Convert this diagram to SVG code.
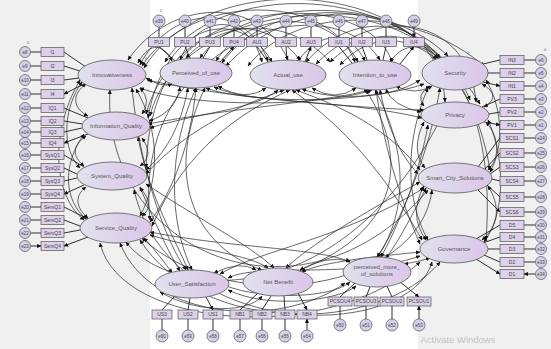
<svg xmlns="http://www.w3.org/2000/svg" width="551" height="349" viewBox="0 0 551 349">
<defs>
<linearGradient id="lg" x1="0" y1="0" x2="1" y2="0"><stop offset="0" stop-color="#dfe1ee"/><stop offset="1" stop-color="#dcc6e8"/></linearGradient>
<marker id="ah" viewBox="0 0 10 10" refX="9" refY="5" markerUnits="userSpaceOnUse" markerWidth="4.5" markerHeight="4.5" orient="auto-start-reverse"><path d="M0,0.5 L10,5 L0,9.5 z" fill="#111"/></marker>
<style>
.lat{fill:url(#lg);stroke:#555;stroke-width:0.8}
.box{fill:#dcd1e9;stroke:#555;stroke-width:0.7}
.err{fill:#d5cfea;stroke:#555;stroke-width:0.7}
.a{stroke:#1a1a1a;stroke-width:0.9;fill:none;marker-end:url(#ah)}
.cv{stroke:#262626;stroke-width:0.7;fill:none;marker-start:url(#ah);marker-end:url(#ah)}
text{font-family:"Liberation Sans",Arial,sans-serif;fill:#444;text-anchor:middle}
.bt{font-size:5px}
.et{font-size:4.5px}
.lt{font-size:6px;fill:#555}
.z{font-size:4px;fill:#666}
</style>
</defs>
<rect width="551" height="349" fill="#f0f0f0"/>
<rect x="150" y="0" width="268" height="349" fill="#ffffff"/>

<g id="connectors">
<path class="a" d="M30.5,52H41M30.5,66H41M30.5,80H41M30.5,94H41M30.5,108H41M30.5,121H41M30.5,132H41M30.5,143H41M30.5,155H41M30.5,168H41M30.5,181H41M30.5,194H41M30.5,207H41M30.5,220H41M30.5,233H41M30.5,246H41"/>
<path class="a" d="M86,67L64,52M80,71L64,66M79,78L64,80M84,84L64,94"/>
<path class="a" d="M88,118L64,108M82,124L64,121M82,128L64,132M88,134L64,143"/>
<path class="a" d="M84,167L64,155M77,174L64,168M77,178L64,181M84,185L64,194"/>
<path class="a" d="M88,219L64,207M80,226L64,220M80,230L64,233M88,237L64,246"/>
<path class="a" d="M535.5,60H524M535.5,73H524M535.5,86H524M535.5,99H524M535.5,112H524M535.5,125H524M535.5,138H524M535.5,153H524M535.5,167H524M535.5,181H524M535.5,197H524M535.5,212H524M535.5,225H524M535.5,237H524M535.5,249H524M535.5,262H524M535.5,274H524"/>
<path class="a" d="M483,64L500,60M488,73L500,73M483,82L500,86"/>
<path class="a" d="M482,107L500,99M489,114L500,112M484,122L500,125"/>
<path class="a" d="M478,167L500,138M484,170L500,153M490,174L500,167M492,179L500,181M487,185L500,197M478,190L500,212"/>
<path class="a" d="M476,239L500,225M483,243L500,237M488,249L500,249M484,255L500,262M476,259L500,274"/>
<path class="a" d="M159,27V37.5M185,27V37.5M210,27V37.5M234,27V37.5M257,27V37.5M286,27V37.5M311,27V37.5M339,27V37.5M362,27V37.5M386,27V37.5M414,27V37.5"/>
<path class="a" d="M175,61L159,46.5M190,58L185,46.5M203,58L210,46.5M220,62L234,46.5"/>
<path class="a" d="M268,62L257,46.5M287,60L286,46.5M305,62L311,46.5"/>
<path class="a" d="M352,63L339,46.5M367,60L362,46.5M383,60L386,46.5M400,64L414,46.5"/>
<path class="a" d="M162,330V319M188,330V319M213,330V319M240,330V319M262,330V319M285,330V319M307,330V319"/>
<path class="a" d="M340,319V306M366,319V306M392,319V306M419,319V306"/>
<path class="a" d="M175,296L162,310M190,298L188,310M206,297L213,310"/>
<path class="a" d="M258,293L240,310M271,296L262,310M284,296L285,310M298,293L307,310"/>
<path class="a" d="M355,283L340,297M370,287L366,297M387,286L392,297M400,282L419,297"/>

<path class="cv" d="M86,84C72,94 72,108 88,116"/>
<path class="cv" d="M82,82C62,110 62,150 80,168"/>
<path class="cv" d="M80,80C50,130 52,195 84,220"/>
<path class="cv" d="M86,136C72,146 72,156 84,166"/>
<path class="cv" d="M84,134C62,165 64,200 86,219"/>
<path class="cv" d="M86,187C74,196 76,208 88,218"/>
<path class="cv" d="M140,88Q152,100 142,114"/>
<path class="cv" d="M142,138Q155,155 140,166"/>
<path class="cv" d="M140,188Q156,205 142,216"/>
<path class="cv" d="M136,89C160,130 160,180 140,216"/>
<path class="cv" d="M482,84C496,92 496,100 484,107"/>
<path class="cv" d="M486,122C500,138 500,158 488,170"/>
<path class="cv" d="M488,186C500,205 500,225 482,240"/>
<path class="cv" d="M486,80C504,110 503,150 490,172"/>
<path class="cv" d="M488,120C506,160 505,215 484,242"/>
<path class="cv" d="M430,86Q415,95 424,106"/>
<path class="cv" d="M424,122Q410,150 425,168"/>
<path class="cv" d="M424,186Q408,215 426,240"/>
<path class="cv" d="M428,88C405,140 405,200 428,240"/>
<path class="cv" d="M140,65C170,5 245,0 268,61"/>
<path class="cv" d="M142,66C190,-8 330,-8 355,62"/>
<path class="cv" d="M144,68C200,-25 380,-20 436,60"/>
<path class="cv" d="M216,61C250,8 330,8 358,62"/>
<path class="cv" d="M222,63C270,-5 390,-2 438,59"/>
<path class="cv" d="M306,62C350,12 410,18 440,58"/>
<path class="cv" d="M226,66C300,-15 440,0 445,102"/>
<path class="cv" d="M148,118C165,20 240,5 272,62"/>
<path class="cv" d="M146,114C180,-10 370,-10 392,62"/>
<path class="cv" d="M180,60C200,10 250,15 262,62"/>
<path class="cv" d="M298,61C320,30 350,30 365,61"/>
<path class="cv" d="M390,62C405,40 425,45 438,58"/>
<path class="cv" d="M138,63C150,40 165,45 172,61"/>
<path class="cv" d="M316,64C380,0 470,20 476,102"/>
<path class="cv" d="M150,116C180,-5 420,-25 470,100"/>
<path class="cv" d="M165,62C210,-15 400,-30 480,104"/>
<path class="cv" d="M146,168C150,30 250,-5 300,60"/>
<path class="cv" d="M150,220C130,40 330,-20 380,60"/>
<path class="cv" d="M200,58C240,0 380,-10 448,56"/>
<path class="cv" d="M248,66C300,0 420,10 484,66"/>
<path class="cv" d="M186,58C220,20 290,15 330,62"/>
<path class="cv" d="M128,60C170,-2 260,-5 288,60"/>
<path class="cv" d="M340,65C390,10 470,50 490,170"/>
<path class="cv" d="M330,62C400,-5 500,60 486,240"/>
<path class="cv" d="M146,78Q162,88 172,84"/>
<path class="cv" d="M218,86Q245,102 266,88"/>
<path class="cv" d="M312,88Q335,102 356,88"/>
<path class="cv" d="M396,86Q415,96 432,86"/>
<path class="cv" d="M149,121Q176,112 180,87"/>
<path class="cv" d="M146,170C170,148 182,120 188,88"/>
<path class="cv" d="M150,222C180,180 192,130 196,88"/>
<path class="cv" d="M150,128C200,112 255,110 278,90"/>
<path class="cv" d="M146,174C190,125 250,102 284,90"/>
<path class="cv" d="M152,226C185,150 240,112 290,90"/>
<path class="cv" d="M148,124C230,108 340,100 368,90"/>
<path class="cv" d="M140,88C200,110 330,105 372,90"/>
<path class="cv" d="M421,112Q392,106 386,89"/>
<path class="cv" d="M418,174C396,150 386,120 380,90"/>
<path class="cv" d="M420,244C392,180 382,130 376,90"/>
<path class="cv" d="M420,170C382,120 322,100 296,90"/>
<path class="cv" d="M422,240C372,150 322,112 292,90"/>
<path class="cv" d="M422,118C350,100 240,102 206,88"/>
<path class="cv" d="M424,84C380,100 260,108 214,87"/>
<path class="cv" d="M420,80C390,100 330,100 302,89"/>
<path class="cv" d="M148,80C230,100 400,110 424,110"/>
<path class="cv" d="M144,238Q162,258 172,273"/>
<path class="cv" d="M140,187C158,230 170,255 180,271"/>
<path class="cv" d="M138,137C150,200 176,240 188,270"/>
<path class="cv" d="M132,88C140,170 165,240 186,270"/>
<path class="cv" d="M196,88C168,150 168,220 192,270"/>
<path class="cv" d="M205,88C165,170 190,245 262,270"/>
<path class="cv" d="M375,90C408,150 408,210 378,257"/>
<path class="cv" d="M366,90C410,160 400,230 300,270"/>
<path class="cv" d="M214,273Q240,260 256,270"/>
<path class="cv" d="M300,270Q326,255 350,261"/>
<path class="cv" d="M404,264Q418,262 430,258"/>
<path class="cv" d="M426,188C410,220 396,245 386,258"/>
<path class="cv" d="M428,125C418,180 396,230 381,257"/>
<path class="cv" d="M440,88C430,150 402,220 377,257"/>
<path class="cv" d="M150,235C200,250 250,255 268,268"/>
<path class="cv" d="M146,184C200,220 250,245 274,268"/>
<path class="cv" d="M420,252C380,256 320,262 302,272"/>
<path class="cv" d="M420,182C360,215 310,245 286,268"/>
<path class="cv" d="M150,232C230,248 320,248 350,262"/>
<path class="cv" d="M420,256C350,280 260,262 228,278"/>
<path class="cv" d="M424,188C340,240 260,250 220,274"/>
<path class="cv" d="M218,282C250,300 330,300 350,282"/>
<path class="cv" d="M140,240C200,335 380,335 440,262"/>
<path class="cv" d="M134,190C170,345 410,340 432,262"/>
<path class="cv" d="M142,238C230,320 420,290 432,190"/>
<path class="cv" d="M120,243C150,320 280,330 345,283"/>
<path class="cv" d="M126,242C170,300 340,315 440,120"/>
<path class="cv" d="M110,90C100,250 300,340 428,190"/>
<path class="cv" d="M160,292C200,315 250,312 262,296"/>
<path class="cv" d="M228,290C270,310 340,300 356,286"/>
<path class="cv" d="M100,243C120,330 330,345 420,262"/>
</g>

<g id="innovativeness"><ellipse class="lat" cx="112" cy="75" rx="34" ry="15"/><text class="lt" x="112" y="77">Innovativeness</text><text class="z" x="146" y="60">0</text></g>
<g id="information_quality"><ellipse class="lat" cx="116" cy="126" rx="34" ry="14"/><text class="lt" x="116" y="128">Information_Quality</text></g>
<g id="system_quality"><ellipse class="lat" cx="112" cy="176" rx="35" ry="14"/><text class="lt" x="112" y="178">System_Quality</text></g>
<g id="service_quality"><ellipse class="lat" cx="116" cy="228" rx="36" ry="15"/><text class="lt" x="116" y="230">Service_Quality</text></g>
<g id="perceived_of_use"><ellipse class="lat" cx="196" cy="73" rx="36" ry="15"/><text class="lt" x="196" y="75">Perceived_of_use</text></g>
<g id="actual_use"><ellipse class="lat" cx="288" cy="75" rx="38" ry="15"/><text class="lt" x="288" y="77">Actual_use</text></g>
<g id="intention_to_use"><ellipse class="lat" cx="375" cy="75" rx="36" ry="15"/><text class="lt" x="375" y="77">Intention_to_use</text></g>
<g id="security"><ellipse class="lat" cx="455" cy="73" rx="33" ry="17"/><text class="lt" x="455" y="75">Security</text><text class="z" x="468" y="54">0</text></g>
<g id="privacy"><ellipse class="lat" cx="455" cy="115" rx="34" ry="13"/><text class="lt" x="455" y="117">Privacy</text></g>
<g id="smart_city_solutions"><ellipse class="lat" cx="455" cy="178" rx="37" ry="15"/><text class="lt" x="455" y="180">Smart_City_Solutions</text></g>
<g id="governance"><ellipse class="lat" cx="454" cy="249" rx="34" ry="14"/><text class="lt" x="454" y="251">Governance</text></g>
<g id="user_satisfaction"><ellipse class="lat" cx="192" cy="284" rx="37" ry="14"/><text class="lt" x="192" y="286">User_Satisfaction</text></g>
<g id="net_benefit"><ellipse class="lat" cx="278" cy="282" rx="35" ry="14"/><text class="lt" x="278" y="284">Net Benefit</text><text class="z" x="290" y="265">0</text></g>
<g id="perceived_more"><ellipse class="lat" cx="377" cy="272" rx="34" ry="15"/><text class="lt" x="377" y="269">perceived_more_</text><text class="lt" x="377" y="276">of_solutions</text></g>

<g id="I1"><rect class="box" x="41" y="47.5" width="23" height="9"/><text class="bt" x="52.5" y="53.8">I1</text></g>
<g id="I2"><rect class="box" x="41" y="61.5" width="23" height="9"/><text class="bt" x="52.5" y="67.8">I2</text></g>
<g id="I3"><rect class="box" x="41" y="75.5" width="23" height="9"/><text class="bt" x="52.5" y="81.8">I3</text></g>
<g id="I4"><rect class="box" x="41" y="89.5" width="23" height="9"/><text class="bt" x="52.5" y="95.8">I4</text></g>
<g id="IQ1"><rect class="box" x="41" y="103.5" width="23" height="9"/><text class="bt" x="52.5" y="109.8">IQ1</text></g>
<g id="IQ2"><rect class="box" x="41" y="116.5" width="23" height="9"/><text class="bt" x="52.5" y="122.8">IQ2</text></g>
<g id="IQ3"><rect class="box" x="41" y="127.5" width="23" height="9"/><text class="bt" x="52.5" y="133.8">IQ3</text></g>
<g id="IQ4"><rect class="box" x="41" y="138.5" width="23" height="9"/><text class="bt" x="52.5" y="144.8">IQ4</text></g>
<g id="SysQ1"><rect class="box" x="41" y="150.5" width="23" height="9"/><text class="bt" x="52.5" y="156.8">SysQ1</text></g>
<g id="SysQ2"><rect class="box" x="41" y="163.5" width="23" height="9"/><text class="bt" x="52.5" y="169.8">SysQ2</text></g>
<g id="SysQ3"><rect class="box" x="41" y="176.5" width="23" height="9"/><text class="bt" x="52.5" y="182.8">SysQ3</text></g>
<g id="SysQ4"><rect class="box" x="41" y="189.5" width="23" height="9"/><text class="bt" x="52.5" y="195.8">SysQ4</text></g>
<g id="ServQ1"><rect class="box" x="41" y="202.5" width="23" height="9"/><text class="bt" x="52.5" y="208.8">ServQ1</text></g>
<g id="ServQ2"><rect class="box" x="41" y="215.5" width="23" height="9"/><text class="bt" x="52.5" y="221.8">ServQ2</text></g>
<g id="ServQ3"><rect class="box" x="41" y="228.5" width="23" height="9"/><text class="bt" x="52.5" y="234.8">ServQ3</text></g>
<g id="ServQ4"><rect class="box" x="41" y="241.5" width="23" height="9"/><text class="bt" x="52.5" y="247.8">ServQ4</text></g>
<g id="e8"><circle class="err" cx="25" cy="52" r="5.5"/><text class="et" x="25" y="53.6">e8</text><text class="z" x="28" y="44">0</text></g>
<g id="e9"><circle class="err" cx="25" cy="66" r="5.5"/><text class="et" x="25" y="67.6">e9</text></g>
<g id="e10"><circle class="err" cx="25" cy="80" r="5.5"/><text class="et" x="25" y="81.6">e10</text></g>
<g id="e11"><circle class="err" cx="25" cy="94" r="5.5"/><text class="et" x="25" y="95.6">e11</text></g>
<g id="e12"><circle class="err" cx="25" cy="108" r="5.5"/><text class="et" x="25" y="109.6">e12</text></g>
<g id="e13"><circle class="err" cx="25" cy="121" r="5.5"/><text class="et" x="25" y="122.6">e13</text></g>
<g id="e14"><circle class="err" cx="25" cy="132" r="5.5"/><text class="et" x="25" y="133.6">e14</text></g>
<g id="e15"><circle class="err" cx="25" cy="143" r="5.5"/><text class="et" x="25" y="144.6">e15</text></g>
<g id="e16"><circle class="err" cx="25" cy="155" r="5.5"/><text class="et" x="25" y="156.6">e16</text></g>
<g id="e17"><circle class="err" cx="25" cy="168" r="5.5"/><text class="et" x="25" y="169.6">e17</text></g>
<g id="e18"><circle class="err" cx="25" cy="181" r="5.5"/><text class="et" x="25" y="182.6">e18</text></g>
<g id="e19"><circle class="err" cx="25" cy="194" r="5.5"/><text class="et" x="25" y="195.6">e19</text></g>
<g id="e20"><circle class="err" cx="25" cy="207" r="5.5"/><text class="et" x="25" y="208.6">e20</text></g>
<g id="e21"><circle class="err" cx="25" cy="220" r="5.5"/><text class="et" x="25" y="221.6">e21</text></g>
<g id="e22"><circle class="err" cx="25" cy="233" r="5.5"/><text class="et" x="25" y="234.6">e22</text></g>
<g id="e23"><circle class="err" cx="25" cy="246" r="5.5"/><text class="et" x="25" y="247.6">e23</text></g>

<g id="IN3"><rect class="box" x="500" y="55.5" width="24" height="9"/><text class="bt" x="512" y="61.8">IN3</text></g>
<g id="IN2"><rect class="box" x="500" y="68.5" width="24" height="9"/><text class="bt" x="512" y="74.8">IN2</text></g>
<g id="IN1"><rect class="box" x="500" y="81.5" width="24" height="9"/><text class="bt" x="512" y="87.8">IN1</text></g>
<g id="PV3"><rect class="box" x="500" y="94.5" width="24" height="9"/><text class="bt" x="512" y="100.8">PV3</text></g>
<g id="PV2"><rect class="box" x="500" y="107.5" width="24" height="9"/><text class="bt" x="512" y="113.8">PV2</text></g>
<g id="PV1"><rect class="box" x="500" y="120.5" width="24" height="9"/><text class="bt" x="512" y="126.8">PV1</text></g>
<g id="SCS1"><rect class="box" x="500" y="133.5" width="24" height="9"/><text class="bt" x="512" y="139.8">SCS1</text></g>
<g id="SCS2"><rect class="box" x="500" y="148.5" width="24" height="9"/><text class="bt" x="512" y="154.8">SCS2</text></g>
<g id="SCS3"><rect class="box" x="500" y="162.5" width="24" height="9"/><text class="bt" x="512" y="168.8">SCS3</text></g>
<g id="SCS4"><rect class="box" x="500" y="176.5" width="24" height="9"/><text class="bt" x="512" y="182.8">SCS4</text></g>
<g id="SCS5"><rect class="box" x="500" y="192.5" width="24" height="9"/><text class="bt" x="512" y="198.8">SCS5</text></g>
<g id="SCS6"><rect class="box" x="500" y="207.5" width="24" height="9"/><text class="bt" x="512" y="213.8">SCS6</text></g>
<g id="D5"><rect class="box" x="500" y="220.5" width="24" height="9"/><text class="bt" x="512" y="226.8">D5</text></g>
<g id="D4"><rect class="box" x="500" y="232.5" width="24" height="9"/><text class="bt" x="512" y="238.8">D4</text></g>
<g id="D3"><rect class="box" x="500" y="244.5" width="24" height="9"/><text class="bt" x="512" y="250.8">D3</text></g>
<g id="D2"><rect class="box" x="500" y="257.5" width="24" height="9"/><text class="bt" x="512" y="263.8">D2</text></g>
<g id="D1"><rect class="box" x="500" y="269.5" width="24" height="9"/><text class="bt" x="512" y="275.8">D1</text></g>
<g id="e6"><circle class="err" cx="541" cy="60" r="5.5"/><text class="et" x="541" y="61.6">e6</text><text class="z" x="545" y="51">0</text></g>
<g id="e5"><circle class="err" cx="541" cy="73" r="5.5"/><text class="et" x="541" y="74.6">e5</text></g>
<g id="e4"><circle class="err" cx="541" cy="86" r="5.5"/><text class="et" x="541" y="87.6">e4</text></g>
<g id="e3"><circle class="err" cx="541" cy="99" r="5.5"/><text class="et" x="541" y="100.6">e3</text></g>
<g id="e2"><circle class="err" cx="541" cy="112" r="5.5"/><text class="et" x="541" y="113.6">e2</text></g>
<g id="e1"><circle class="err" cx="541" cy="125" r="5.5"/><text class="et" x="541" y="126.6">e1</text></g>
<g id="e24"><circle class="err" cx="541" cy="138" r="5.5"/><text class="et" x="541" y="139.6">e24</text></g>
<g id="e25"><circle class="err" cx="541" cy="153" r="5.5"/><text class="et" x="541" y="154.6">e25</text></g>
<g id="e26"><circle class="err" cx="541" cy="167" r="5.5"/><text class="et" x="541" y="168.6">e26</text></g>
<g id="e27"><circle class="err" cx="541" cy="181" r="5.5"/><text class="et" x="541" y="182.6">e27</text></g>
<g id="e28"><circle class="err" cx="541" cy="197" r="5.5"/><text class="et" x="541" y="198.6">e28</text></g>
<g id="e29"><circle class="err" cx="541" cy="212" r="5.5"/><text class="et" x="541" y="213.6">e29</text></g>
<g id="e30"><circle class="err" cx="541" cy="225" r="5.5"/><text class="et" x="541" y="226.6">e30</text></g>
<g id="e31"><circle class="err" cx="541" cy="237" r="5.5"/><text class="et" x="541" y="238.6">e31</text></g>
<g id="e32"><circle class="err" cx="541" cy="249" r="5.5"/><text class="et" x="541" y="250.6">e32</text></g>
<g id="e33"><circle class="err" cx="541" cy="262" r="5.5"/><text class="et" x="541" y="263.6">e33</text></g>
<g id="e34"><circle class="err" cx="541" cy="274" r="5.5"/><text class="et" x="541" y="275.6">e34</text></g>

<g id="PU1"><rect class="box" x="148.5" y="37.5" width="21" height="9"/><text class="bt" x="159" y="43.8">PU1</text></g>
<g id="PU2"><rect class="box" x="174.5" y="37.5" width="21" height="9"/><text class="bt" x="185" y="43.8">PU2</text></g>
<g id="PU3"><rect class="box" x="199.5" y="37.5" width="21" height="9"/><text class="bt" x="210" y="43.8">PU3</text></g>
<g id="PU4"><rect class="box" x="223.5" y="37.5" width="21" height="9"/><text class="bt" x="234" y="43.8">PU4</text></g>
<g id="AU1"><rect class="box" x="246.5" y="37.5" width="21" height="9"/><text class="bt" x="257" y="43.8">AU1</text></g>
<g id="AU2"><rect class="box" x="275.5" y="37.5" width="21" height="9"/><text class="bt" x="286" y="43.8">AU2</text></g>
<g id="AU3"><rect class="box" x="300.5" y="37.5" width="21" height="9"/><text class="bt" x="311" y="43.8">AU3</text></g>
<g id="IU1"><rect class="box" x="328.5" y="37.5" width="21" height="9"/><text class="bt" x="339" y="43.8">IU1</text></g>
<g id="IU2"><rect class="box" x="351.5" y="37.5" width="21" height="9"/><text class="bt" x="362" y="43.8">IU2</text></g>
<g id="IU3"><rect class="box" x="375.5" y="37.5" width="21" height="9"/><text class="bt" x="386" y="43.8">IU3</text></g>
<g id="IU4"><rect class="box" x="403.5" y="37.5" width="21" height="9"/><text class="bt" x="414" y="43.8">IU4</text></g>
<g id="e39"><circle class="err" cx="159" cy="21" r="6"/><text class="et" x="159" y="22.6">e39</text><text class="z" x="161" y="12">0</text></g>
<g id="e40"><circle class="err" cx="185" cy="21" r="6"/><text class="et" x="185" y="22.6">e40</text></g>
<g id="e41"><circle class="err" cx="210" cy="21" r="6"/><text class="et" x="210" y="22.6">e41</text></g>
<g id="e42"><circle class="err" cx="234" cy="21" r="6"/><text class="et" x="234" y="22.6">e42</text></g>
<g id="e43"><circle class="err" cx="257" cy="21" r="6"/><text class="et" x="257" y="22.6">e43</text></g>
<g id="e44"><circle class="err" cx="286" cy="21" r="6"/><text class="et" x="286" y="22.6">e44</text></g>
<g id="e45"><circle class="err" cx="311" cy="21" r="6"/><text class="et" x="311" y="22.6">e45</text></g>
<g id="e46"><circle class="err" cx="339" cy="21" r="6"/><text class="et" x="339" y="22.6">e46</text></g>
<g id="e47"><circle class="err" cx="362" cy="21" r="6"/><text class="et" x="362" y="22.6">e47</text></g>
<g id="e48"><circle class="err" cx="386" cy="21" r="6"/><text class="et" x="386" y="22.6">e48</text></g>
<g id="e49"><circle class="err" cx="414" cy="21" r="6"/><text class="et" x="414" y="22.6">e49</text></g>

<g id="US3"><rect class="box" x="152" y="310" width="20" height="9"/><text class="bt" x="162" y="316.3">US3</text></g>
<g id="US2"><rect class="box" x="178" y="310" width="20" height="9"/><text class="bt" x="188" y="316.3">US2</text></g>
<g id="US1"><rect class="box" x="203" y="310" width="20" height="9"/><text class="bt" x="213" y="316.3">US1</text></g>
<g id="NB1"><rect class="box" x="230" y="310" width="20" height="9"/><text class="bt" x="240" y="316.3">NB1</text></g>
<g id="NB2"><rect class="box" x="252" y="310" width="20" height="9"/><text class="bt" x="262" y="316.3">NB2</text></g>
<g id="NB3"><rect class="box" x="275" y="310" width="20" height="9"/><text class="bt" x="285" y="316.3">NB3</text></g>
<g id="NB4"><rect class="box" x="297" y="310" width="20" height="9"/><text class="bt" x="307" y="316.3">NB4</text></g>
<g id="PCSOU4"><rect class="box" x="328" y="297" width="24" height="9"/><text class="bt" x="340" y="303.3">PCSOU4</text></g>
<g id="PCSOU3"><rect class="box" x="354" y="297" width="24" height="9"/><text class="bt" x="366" y="303.3">PCSOU3</text></g>
<g id="PCSOU2"><rect class="box" x="380" y="297" width="24" height="9"/><text class="bt" x="392" y="303.3">PCSOU2</text></g>
<g id="PCSOU1"><rect class="box" x="407" y="297" width="24" height="9"/><text class="bt" x="419" y="303.3">PCSOU1</text></g>
<g id="e60"><circle class="err" cx="162" cy="336" r="6"/><text class="et" x="162" y="337.6">e60</text></g>
<g id="e59"><circle class="err" cx="188" cy="336" r="6"/><text class="et" x="188" y="337.6">e59</text></g>
<g id="e58"><circle class="err" cx="213" cy="336" r="6"/><text class="et" x="213" y="337.6">e58</text></g>
<g id="e57"><circle class="err" cx="240" cy="336" r="6"/><text class="et" x="240" y="337.6">e57</text></g>
<g id="e56"><circle class="err" cx="262" cy="336" r="6"/><text class="et" x="262" y="337.6">e56</text></g>
<g id="e55"><circle class="err" cx="285" cy="336" r="6"/><text class="et" x="285" y="337.6">e55</text></g>
<g id="e54"><circle class="err" cx="307" cy="336" r="6"/><text class="et" x="307" y="337.6">e54</text></g>
<g id="e50"><circle class="err" cx="340" cy="325" r="6"/><text class="et" x="340" y="326.6">e50</text></g>
<g id="e51"><circle class="err" cx="366" cy="325" r="6"/><text class="et" x="366" y="326.6">e51</text></g>
<g id="e52"><circle class="err" cx="392" cy="325" r="6"/><text class="et" x="392" y="326.6">e52</text></g>
<g id="e53"><circle class="err" cx="419" cy="325" r="6"/><text class="et" x="419" y="326.6">e53</text></g>

<text x="458" y="343" style="font-size:9.5px;fill:#c4c4c4">Activate Windows</text>
</svg>
